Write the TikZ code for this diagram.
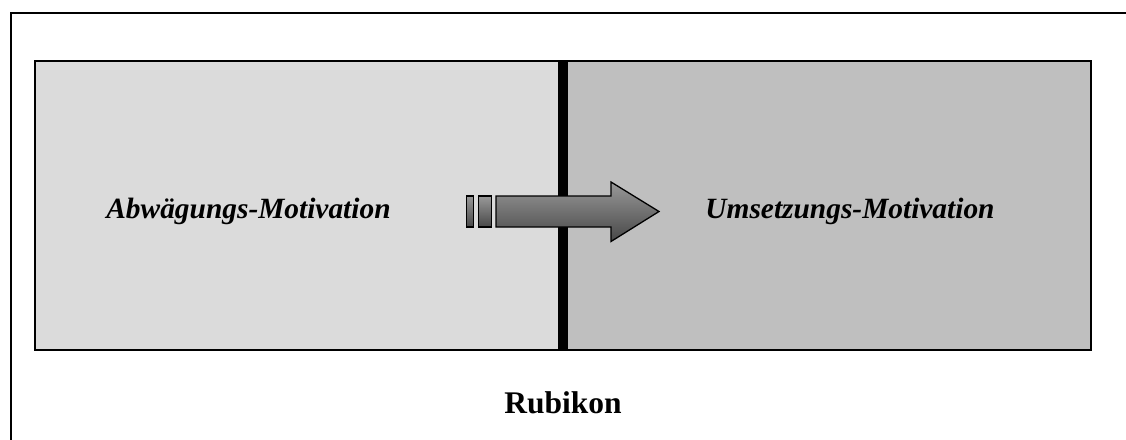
\documentclass[tikz,border=0pt]{standalone}
\usepackage{fontspec}
\setmainfont{Liberation Serif}
\begin{document}
\begin{tikzpicture}[x=1pt,y=-1pt,
  lbl/.style={anchor=base,inner sep=0pt,font=\fontsize{29.4}{34}\selectfont\bfseries\itshape},
  armshade/.style={draw=black,line width=1.3pt,top color=black!40,bottom color=black!72}]
\useasboundingbox (0,0) rectangle (1126,439);
\begin{scope}
\clip (0,0) rectangle (1126,439);
% outer frame
\draw[line width=2pt] (1140,13) -- (11,13) -- (11,450);
\end{scope}
% regions
\fill[black!14] (35,61) rectangle (563,350);
\fill[black!25] (563,61) rectangle (1091,350);
\draw[line width=2pt] (35,61) rectangle (1091,350);
\node[fill=black,inner sep=0pt,minimum width=10pt,minimum height=289pt] (rubicon) at (563,205.5) {};
% labels
\node[lbl] (left) at (248.5,218) {Abwägungs-Motivation};
\node[lbl] (right) at (850,218) {Umsetzungs-Motivation};
\node[anchor=base,inner sep=0pt,font=\fontsize{31.5}{36}\selectfont\bfseries] (rubikon) at (563,413) {Rubikon};
% arrow
\path[armshade] (466.5,196) rectangle (473.5,227);
\path[armshade] (478.5,196) rectangle (491.5,227);
\path[armshade] (496,196) -- (611,196) -- (611,182) -- (659,211.5) -- (611,241.5) -- (611,227) -- (496,227) -- cycle;
\end{tikzpicture}
\end{document}
